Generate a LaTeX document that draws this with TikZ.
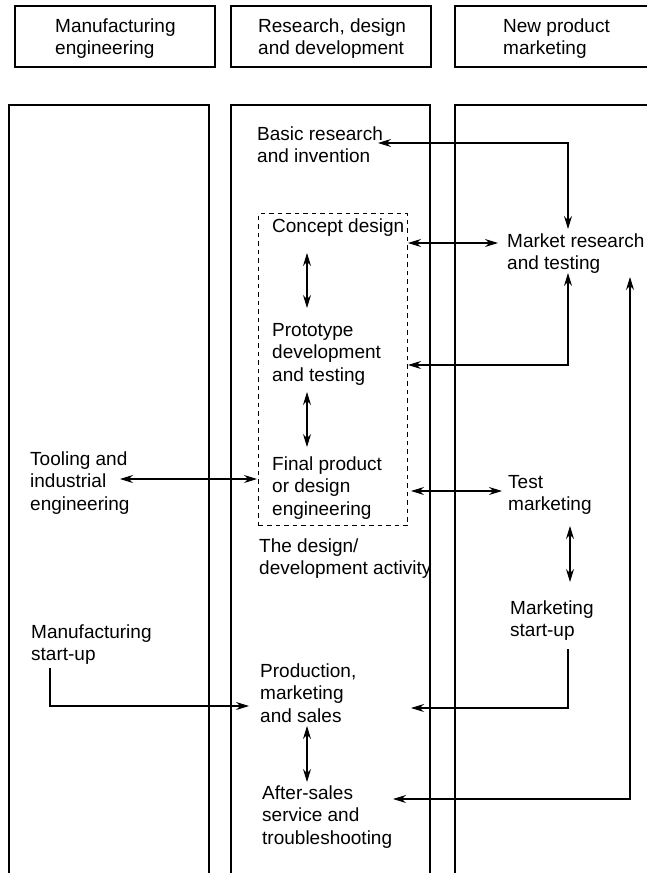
\documentclass[tikz,border=0pt]{standalone}
\usepackage{fontspec}
\setmainfont{Liberation Sans}
\usetikzlibrary{arrows.meta}
\begin{document}
\begin{tikzpicture}[x=1pt,y=-1pt,
  txt/.style={anchor=base west,inner sep=0pt,align=left,font=\fontsize{19}{22.5}\selectfont},
  frame/.style={line width=1.1pt},
  conn/.style={line width=1.1pt},
  both/.style={conn,{Stealth[length=13pt,width=8pt]}-{Stealth[length=13pt,width=8pt]}},
  one/.style={conn,-{Stealth[length=13pt,width=8pt]}},
  dbox/.style={draw,dashed,line width=1pt,dash pattern=on 4.5pt off 4pt,inner sep=0pt,anchor=north west}]
\useasboundingbox (0,0) rectangle (647,873);
\fill[white] (0,0) rectangle (647,873);
% header boxes
\draw[frame] (15,6) rectangle (215,67);
\draw[frame] (231,6) rectangle (431,67);
\draw[frame] (647,6) -- (455,6) -- (455,67) -- (647,67);
% columns
\draw[frame] (9,873) -- (9,105) -- (209,105) -- (209,873);
\draw[frame] (231,873) -- (231,105) -- (430,105) -- (430,873);
\draw[frame] (455,873) -- (455,105) -- (647,105);
% header texts (anchored at the baseline of the last line)
\node[txt] (h1) at (55,54.5) {Manufacturing\\engineering};
\node[txt] (h2) at (258,54.5) {Research, design\\and development};
\node[txt] (h3) at (503,54.5) {New product\\marketing};
% dashed box
\node[dbox,minimum width=149pt,minimum height=312pt] (dash) at (258,213) {};
% texts
\node[txt] (basic) at (257,162.5) {Basic research\\and invention};
\node[txt] (concept) at (272,232) {Concept design};
\node[txt] (proto) at (272,381) {Prototype\\development\\and testing};
\node[txt] (final) at (272,515) {Final product\\or design\\engineering};
\node[txt] (activity) at (259,574.5) {The design/\\development activity};
\node[txt] (market) at (507,269.5) {Market research\\and testing};
\node[txt] (tooling) at (30,510) {Tooling and\\industrial\\engineering};
\node[txt] (test) at (508,510.5) {Test\\marketing};
\node[txt] (mstart) at (510,636.5) {Marketing\\start-up};
\node[txt] (mfg) at (31,660.5) {Manufacturing\\start-up};
\node[txt] (prod) at (260,722) {Production,\\marketing\\and sales};
\node[txt] (after) at (262,844) {After-sales\\service and\\troubleshooting};
% connector end points
\coordinate (basicR) at (378,143);
\coordinate (marketT) at (568,229);
\coordinate (conceptR) at (408,243);
\coordinate (marketL) at (498,243);
\coordinate (protoR) at (408,365);
\coordinate (marketB) at (568,273);
\coordinate (marketB2) at (630,277);
\coordinate (afterR) at (393,799);
\coordinate (toolingR) at (120,479);
\coordinate (finalL) at (257,479);
\coordinate (finalR) at (411,491);
\coordinate (testL) at (502,491);
\coordinate (conceptB) at (307,253);
\coordinate (protoT) at (307,308);
\coordinate (protoB) at (307,392);
\coordinate (finalT) at (307,447);
\coordinate (testB) at (570,526);
\coordinate (mstartT) at (570,582);
\coordinate (mstartB) at (568,649);
\coordinate (prodR) at (411,708);
\coordinate (mfgB) at (50,668);
\coordinate (prodL) at (249,706);
\coordinate (prodB) at (307,726);
\coordinate (afterT) at (307,782);
% connectors
\draw[both] (basicR) -| (marketT);
\draw[both] (conceptR) -- (marketL);
\draw[both] (protoR) -| (marketB);
\draw[both] (afterR) -| (marketB2);
\draw[both] (toolingR) -- (finalL);
\draw[both] (finalR) -- (testL);
\draw[both] (conceptB) -- (protoT);
\draw[both] (protoB) -- (finalT);
\draw[both] (testB) -- (mstartT);
\draw[both] (prodB) -- (afterT);
\draw[one] (mstartB) |- (prodR);
\draw[one] (mfgB) |- (prodL);
\end{tikzpicture}
\end{document}
